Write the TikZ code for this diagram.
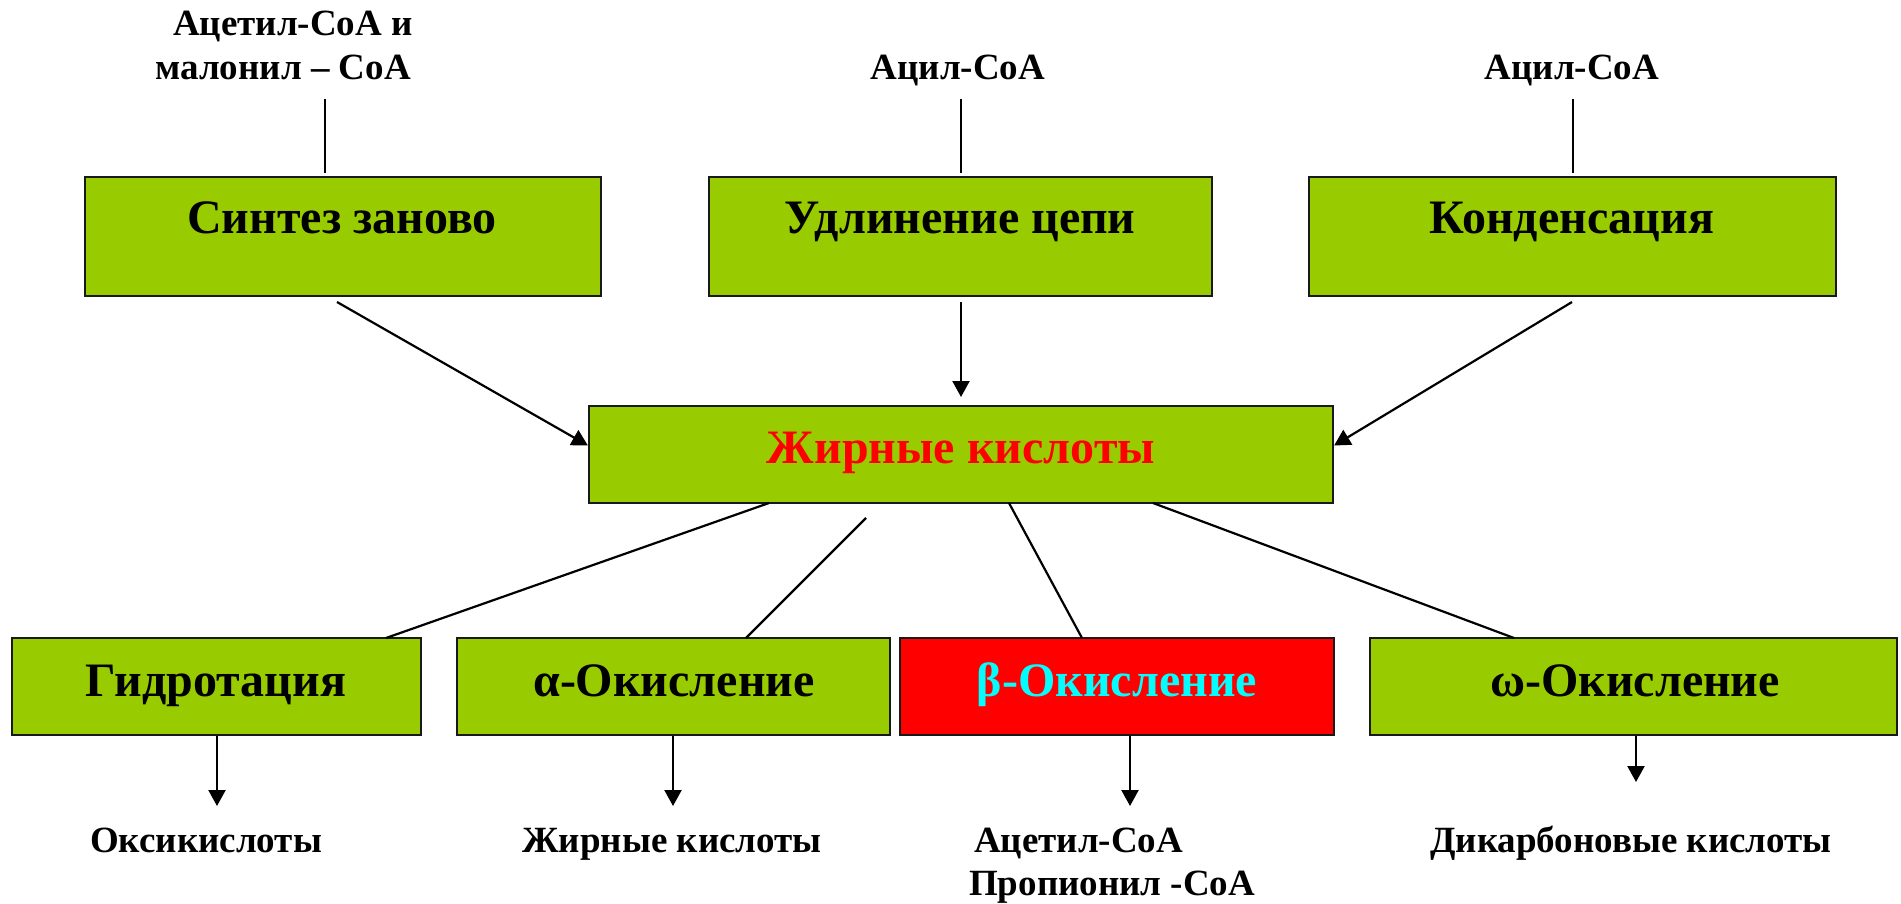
\documentclass[tikz,border=0pt]{standalone}
\usepackage{fontspec}
\setmainfont{Liberation Serif}
\usetikzlibrary{arrows.meta,calc,fit}
\definecolor{leaf}{HTML}{99CC00}
\definecolor{hot}{HTML}{FF0000}
\definecolor{aqua}{HTML}{00FFFF}
\tikzset{
  box/.style={draw=black!90, line width=2.2pt, fill=leaf, inner sep=0pt},
  hotbox/.style={box, fill=hot},
  bigtxt/.style={font=\fontsize{48}{56}\selectfont\bfseries, inner sep=0pt, anchor=base},
  smalltxt/.style={font=\fontsize{37}{44}\selectfont\bfseries, inner sep=0pt, anchor=base},
  link/.style={line width=2.2pt},
  arr/.style={line width=2.2pt, -{Triangle[length=16pt,width=17pt]}}
}
\begin{document}
\begin{tikzpicture}[x=1pt,y=-1pt]
\useasboundingbox (0,0) rectangle (1901,903);

% sources at the top
\node[smalltxt, anchor=base east] (src1a) at (413,35) {Ацетил-СоА и};
\node[smalltxt, anchor=base east] (src1b) at (411,79) {малонил – СоА};
\node[smalltxt] (src2) at (958,79) {Ацил-СоА};
\node[smalltxt] (src3) at (1572,79) {Ацил-СоА};

% three ways of making fatty acids
\node[box, fit={(85,177) (601,296)}] (syn) {};
\node[box, fit={(709,177) (1212,296)}] (elo) {};
\node[box, fit={(1309,177) (1836,296)}] (con) {};
\node[bigtxt] (synt) at (342,233) {Синтез заново};
\node[bigtxt] (elot) at (960,233) {Удлинение цепи};
\node[bigtxt] (cont) at (1572,233) {Конденсация};

% fatty acids
\node[box, fit={(589,406) (1333,503)}] (fa) {};
\node[bigtxt, text=hot] (fat) at (961,463) {Жирные кислоты};

% four ways of breaking them down
\node[box, fit={(12,638) (421,735)}] (hyd) {};
\node[box, fit={(457,638) (890,735)}] (alf) {};
\node[hotbox, fit={(900,638) (1334,735)}] (bet) {};
\node[box, fit={(1370,638) (1897,735)}] (omg) {};
\node[bigtxt] (hydt) at (216,696) {Гидротация};
\node[bigtxt] (alft) at (674,696) {α-Окисление};
\node[bigtxt, text=aqua] (bett) at (1117,696) {β-Окисление};
\node[bigtxt] (omgt) at (1635,696) {ω-Окисление};

% products
\node[smalltxt] (p1) at (206,852) {Оксикислоты};
\node[smalltxt] (p2) at (672,852) {Жирные кислоты};
\node[smalltxt, anchor=base west] (p3a) at (974,852) {Ацетил-СоА};
\node[smalltxt, anchor=base west] (p3b) at (969,895) {Пропионил -СоА};
\node[smalltxt] (p4) at (1631,852) {Дикарбоновые кислоты};

% ticks from the sources to the boxes
\coordinate (t1a) at (325,99);  \coordinate (t1b) at (325,173);
\coordinate (t2a) at (961,99);  \coordinate (t2b) at (961,173);
\coordinate (t3a) at (1573,99); \coordinate (t3b) at (1573,173);
\draw[link] (t1a) -- (t1b);
\draw[link] (t2a) -- (t2b);
\draw[link] (t3a) -- (t3b);

% arrows into the fatty acid box
\coordinate (u1) at (337,302);
\coordinate (u2) at (961,302);
\coordinate (u3) at (1572,302);
\coordinate (v1) at ($(fa.west)+(0,-9)$);
\coordinate (v2) at (961,397);
\coordinate (v3) at ($(fa.east)+(0,-9)$);
\draw[arr] (u1) -- (v1);
\draw[arr] (u2) -- (v2);
\draw[arr] (u3) -- (v3);

% branches down to the breakdown boxes
\coordinate (b1) at (769,503);
\coordinate (b2) at (866,518);
\coordinate (b3) at (1009,503);
\coordinate (b4) at (1153,503);
\coordinate (c1) at (386,638);
\coordinate (c2) at (746,638);
\coordinate (c3) at (1082,638);
\coordinate (c4) at (1514,638);
\draw[link] (b1) -- (c1);
\draw[link] (b2) -- (c2);
\draw[link] (b3) -- (c3);
\draw[link] (b4) -- (c4);

% arrows to the products
\coordinate (d1) at (217,806);
\coordinate (d2) at (673,806);
\coordinate (d3) at (1130,806);
\coordinate (d4) at (1636,782);
\draw[arr] (hyd.south -| d1) -- (d1);
\draw[arr] (alf.south -| d2) -- (d2);
\draw[arr] (bet.south -| d3) -- (d3);
\draw[arr] (omg.south -| d4) -- (d4);
\end{tikzpicture}
\end{document}
